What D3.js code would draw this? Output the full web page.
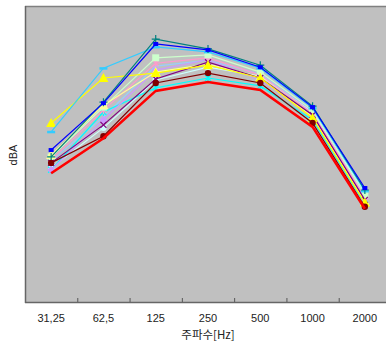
<!DOCTYPE html>
<html>
<head>
<meta charset="utf-8">
<script src="https://cdn.jsdelivr.net/npm/d3@7"></script>
<style>
  body { margin: 0; background: #fff; }
  text { font-family: "Liberation Sans", Arial, "Noto Sans CJK KR", sans-serif; }
</style>
</head>
<body>
<div id="chart"></div>
<script>
// data
const freqs = ["31,25", "62,5", "125", "250", "500", "1000", "2000"];

const seriesNames = ["s1", "s2", "s3", "s4", "s5", "s6", "s7", "s8", "s9", "s10", "s11", "s12", "s13"];
const seriesColors = ["#99CCFF", "#CCFFFF", "#00FFFF", "#CC99FF", "#FF99CC", "#CCFFCC", "#FFFF99",
                      "#800080", "#FFFF00", "#33CCFF", "#008080", "#0000FF", "#800000"];
const seriesMarkers = ["none", "circle", "star", "diamond", "star", "square", "triangle",
                       "x", "triangle", "dash", "plus", "smallsquare", "circle"];

const valuesS1  = [58.6, 67.5, 77.8, 79.0, 76.2, 68.6, 51.9];
const valuesS2  = [57.2, 65.3, 75.0, 77.6, 75.8, 68.5, 52.3];
const valuesS3  = [56.8, 68.5, 73.4, 75.4, 73.8, 66.9, 49.9];
const valuesS4  = [56.8, 66.9, 77.0, 79.1, 75.0, 67.7, 50.9];
const valuesS5  = [58.8, 68.9, 78.4, 79.5, 76.0, 68.3, 51.3];
const valuesS6  = [59.4, 69.5, 79.5, 80.1, 76.6, 68.9, 51.7];
const valuesS7  = [59.8, 69.9, 76.6, 78.2, 75.6, 67.5, 50.3];
const valuesS8  = [58.2, 65.9, 75.2, 78.6, 75.4, 67.9, 50.7];
const valuesS9  = [66.3, 75.4, 76.4, 78.0, 75.4, 67.3, 50.1];
const valuesS10 = [64.5, 77.4, 81.7, 80.7, 77.4, 69.3, 52.5];
const valuesS11 = [59.4, 70.5, 83.3, 81.3, 78.0, 69.7, 52.7];
const valuesS12 = [60.8, 70.3, 82.3, 81.1, 77.6, 69.5, 53.1];
const valuesS13 = [58.2, 63.6, 74.4, 76.4, 74.4, 66.3, 49.3];
const valuesRed = [56.1, 63.2, 72.8, 74.6, 73.0, 65.5, 48.9];

const allValues = [valuesS1, valuesS2, valuesS3, valuesS4, valuesS5, valuesS6, valuesS7,
                   valuesS8, valuesS9, valuesS10, valuesS11, valuesS12, valuesS13];

const width = 386, height = 347;
const plotLeft = 25, plotTop = 6, plotRight = 391, plotBottom = 302;

const svg = d3.select("#chart")
    .append("svg")
        .attr("width", width)
        .attr("height", height);

const x = d3.scaleBand()
    .domain(freqs)
    .range([plotLeft, plotRight])
    .padding(0);

const y = d3.scaleLinear()
    .domain([30, 90])
    .range([plotBottom, plotTop]);

// plot background
svg.append("rect")
    .attr("x", plotLeft)
    .attr("y", plotTop)
    .attr("width", plotRight - plotLeft)
    .attr("height", plotBottom - plotTop)
    .attr("fill", "#C0C0C0");

svg.append("line")
    .attr("x1", plotLeft).attr("x2", width)
    .attr("y1", plotTop + 0.5).attr("y2", plotTop + 0.5)
    .style("stroke", "#808080")
    .style("stroke-width", 1.5);

// x axis
const xAxis = svg.append("g")
    .attr("transform", `translate(0,${plotBottom})`)
    .call(d3.axisBottom(x).tickSize(0).tickPadding(12));
xAxis.select(".domain").remove();
xAxis.selectAll("text")
    .attr("fill", "#222")
    .style("font-size", "11px");

// ticks on band edges, pointing up
svg.append("g").selectAll("line")
    .data(freqs.slice(1))
    .join("line")
        .attr("x1", d => x(d) + 0.5)
        .attr("x2", d => x(d) + 0.5)
        .attr("y1", plotBottom)
        .attr("y2", plotBottom - 4)
        .style("stroke", "#555")
        .style("stroke-width", 1);

svg.append("line")
    .attr("x1", plotLeft).attr("x2", width)
    .attr("y1", plotBottom + 0.5).attr("y2", plotBottom + 0.5)
    .style("stroke", "#666")
    .style("stroke-width", 1.5);

svg.append("line")
    .attr("x1", plotLeft + 0.5).attr("x2", plotLeft + 0.5)
    .attr("y1", plotTop).attr("y2", plotBottom + 1)
    .style("stroke", "#666")
    .style("stroke-width", 1.5);

// axis titles
svg.append("text")
    .attr("x", 208)
    .attr("y", 339)
    .attr("text-anchor", "middle")
    .attr("fill", "#222")
    .style("font-size", "11.5px")
    .style("font-family", "'Noto Sans CJK KR', sans-serif")
    .text("주파수[Hz]");

svg.append("text")
    .attr("transform", "translate(17,155) rotate(-90)")
    .attr("text-anchor", "middle")
    .attr("fill", "#222")
    .style("font-size", "11px")
    .text("dBA");

// lines
const line = d3.line()
    .x((d, i) => x(freqs[i]) + x.bandwidth() / 2)
    .y(d => y(d));

const cx = i => x(freqs[i]) + x.bandwidth() / 2;

function drawMarker(g, type, color, px, py) {
    if (type === "circle") {
        g.append("circle").attr("cx", px).attr("cy", py).attr("r", 3.2).attr("fill", color);
    } else if (type === "square") {
        g.append("rect").attr("x", px - 3.5).attr("y", py - 3.5).attr("width", 7).attr("height", 7).attr("fill", color);
    } else if (type === "smallsquare") {
        g.append("rect").attr("x", px - 2.5).attr("y", py - 2).attr("width", 5).attr("height", 4).attr("fill", color);
    } else if (type === "triangle") {
        g.append("path").attr("d", `M${px},${py - 5}L${px + 5},${py + 4}L${px - 5},${py + 4}Z`).attr("fill", color);
    } else if (type === "diamond") {
        g.append("path").attr("d", `M${px},${py - 4}L${px + 4},${py}L${px},${py + 4}L${px - 4},${py}Z`).attr("fill", color);
    } else if (type === "dash") {
        g.append("rect").attr("x", px - 4).attr("y", py - 1).attr("width", 8).attr("height", 2.5).attr("fill", color);
    } else if (type === "plus") {
        g.append("path").attr("d", `M${px - 4},${py}H${px + 4}M${px},${py - 4}V${py + 4}`)
            .attr("stroke", color).attr("stroke-width", 1.2);
    } else if (type === "x") {
        g.append("path").attr("d", `M${px - 3},${py - 3}L${px + 3},${py + 3}M${px + 3},${py - 3}L${px - 3},${py + 3}`)
            .attr("stroke", color).attr("stroke-width", 1.2);
    } else if (type === "star") {
        g.append("path").attr("d", `M${px - 3},${py - 3}L${px + 3},${py + 3}M${px + 3},${py - 3}L${px - 3},${py + 3}M${px},${py - 4}V${py + 4}`)
            .attr("stroke", color).attr("stroke-width", 1.2);
    }
}

const seriesGroup = svg.append("g");

allValues.forEach((vals, k) => {
    const g = seriesGroup.append("g").attr("class", seriesNames[k]);
    g.append("path")
        .datum(vals)
        .attr("d", line)
        .attr("fill", "none")
        .attr("stroke", seriesColors[k])
        .attr("stroke-width", 1.2);
    vals.forEach((v, i) => drawMarker(g, seriesMarkers[k], seriesColors[k], cx(i), y(v)));
});

// thick red series
seriesGroup.append("path")
    .datum(valuesRed)
    .attr("d", line)
    .attr("fill", "none")
    .attr("stroke", "#FF0000")
    .attr("stroke-width", 2.6);
</script>
</body>
</html>
